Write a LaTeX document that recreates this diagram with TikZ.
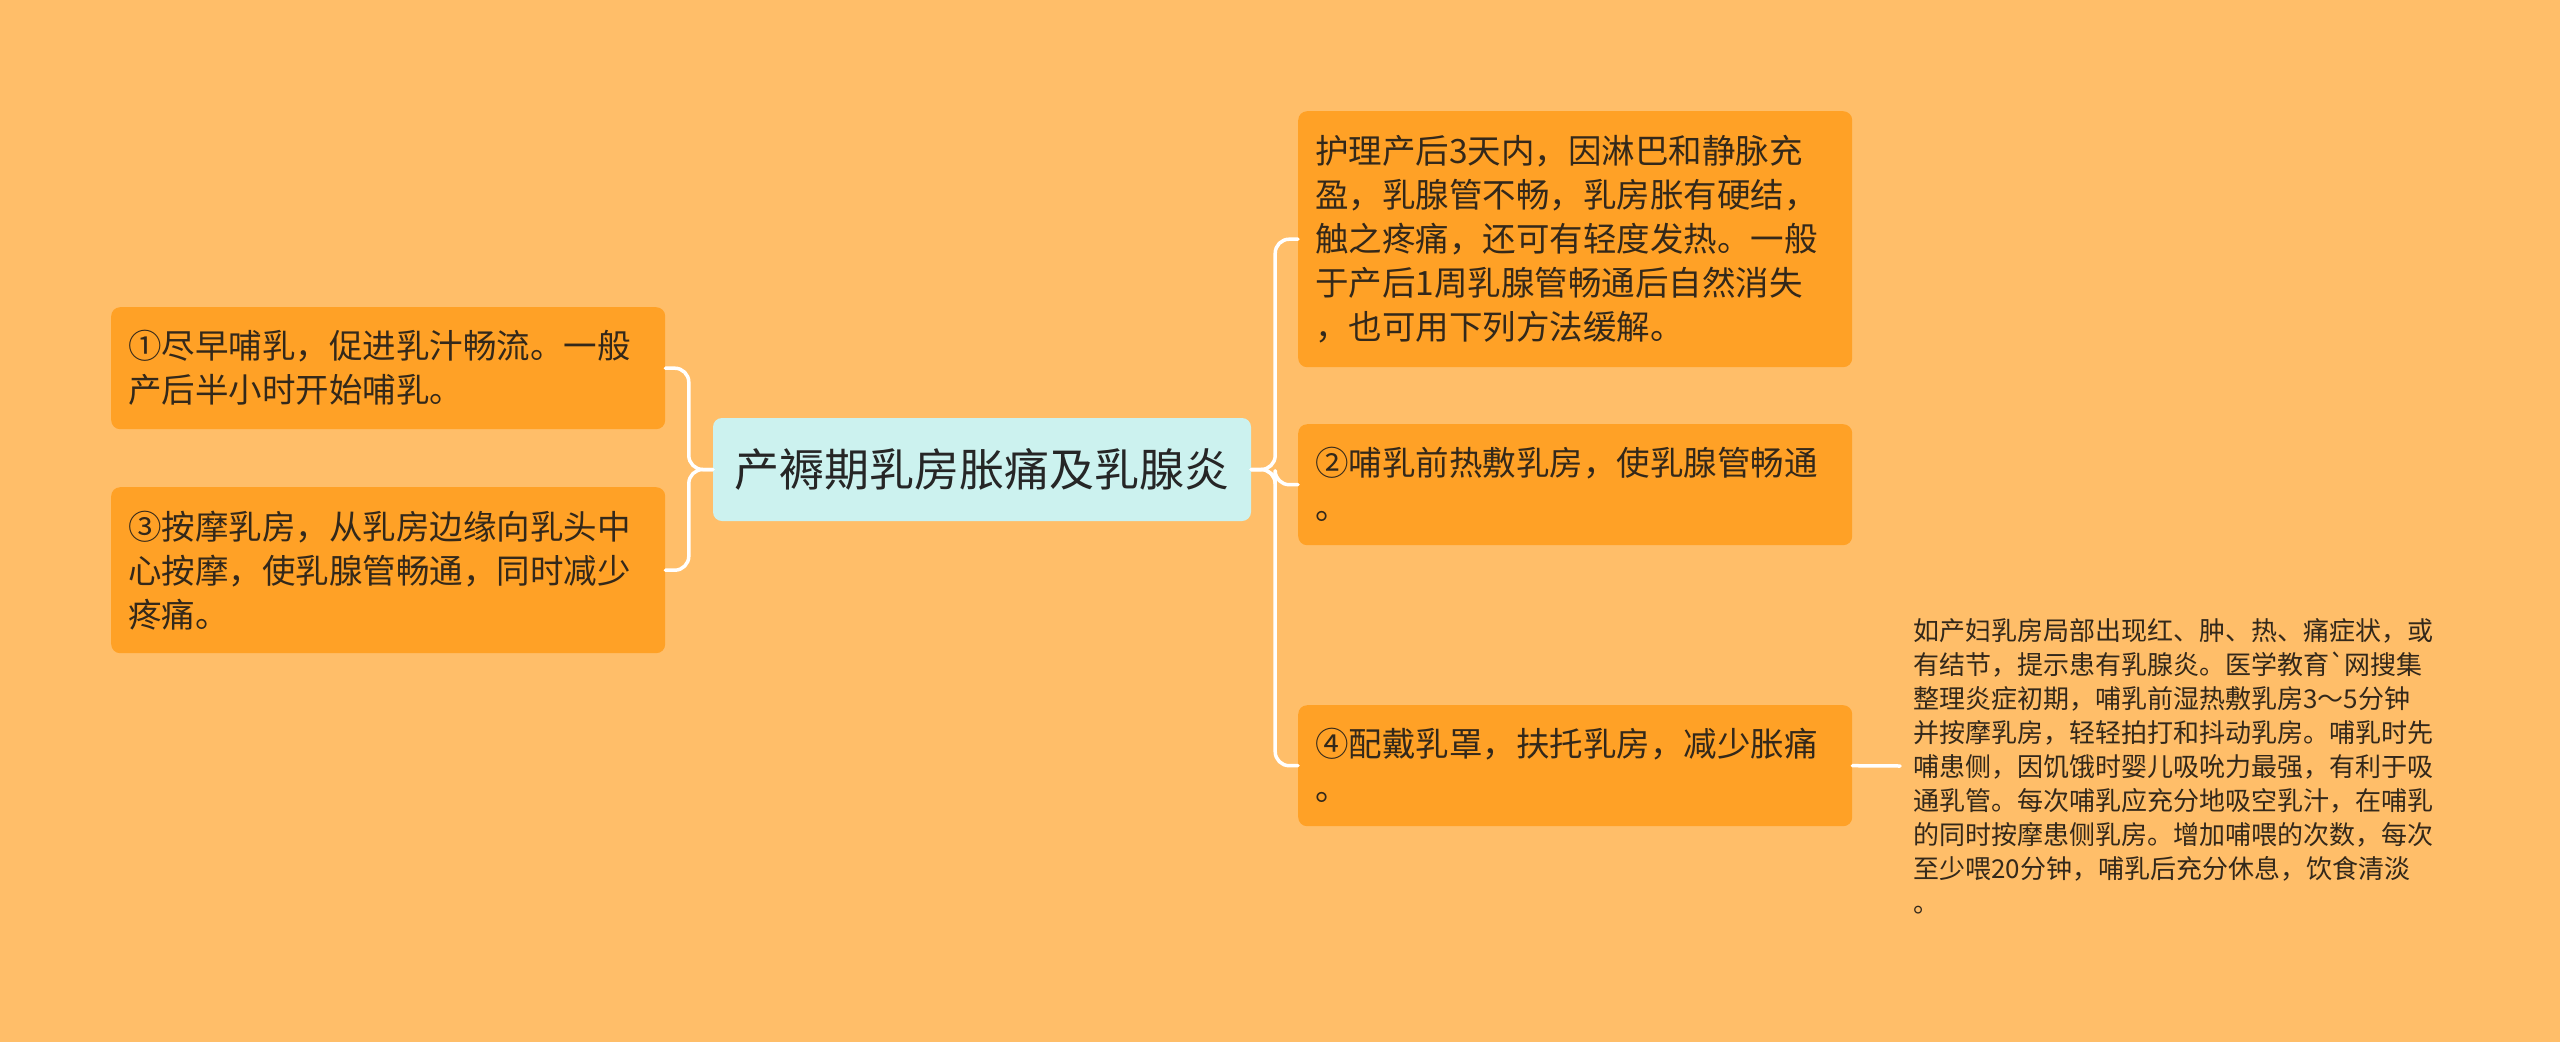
\documentclass[tikz,border=0pt]{standalone}
\usepackage{fontspec}
\setmainfont{Noto Sans CJK SC}
\definecolor{bgorange}{HTML}{FFBE69}
\definecolor{leaforange}{HTML}{FFA126}
\definecolor{rootcyan}{HTML}{CCF2EF}
\definecolor{inkdark}{HTML}{33281A}
\begin{document}
\begin{tikzpicture}[x=1pt,y=-1pt,line join=round,line cap=round,
  root/.style={fill=rootcyan,rounded corners=9pt,minimum width=538pt,minimum height=103pt,
    inner sep=0pt,text=black!85,font=\fontsize{45}{52}\selectfont},
  leaf/.style={fill=leaforange,rounded corners=9pt,anchor=north west,inner xsep=17pt,inner ysep=0pt,
    text width=520pt,align=left,text=inkdark,font=\fontsize{33.5}{44}\selectfont},
  note/.style={anchor=west,inner xsep=13pt,text width=530pt,align=left,text=inkdark,
    font=\fontsize{26}{34}\selectfont},
  link/.style={draw=white,line width=3.5pt,rounded corners=14pt}]
\fill[bgorange] (0,0) rectangle (2560,1042);
\useasboundingbox (0,0) rectangle (2560,1042);

\node[root] (top) at (982,469.5) {产褥期乳房胀痛及乳腺炎};

% left branch
\node[leaf,minimum height=122pt] (m1) at (111,307) {①尽早哺乳，促进乳汁畅流。一般\\产后半小时开始哺乳。};
\node[leaf,minimum height=166pt] (m3) at (111,487) {③按摩乳房，从乳房边缘向乳头中\\心按摩，使乳腺管畅通，同时减少\\疼痛。};

% right branch
\node[leaf,minimum height=256pt] (n0) at (1298,111) {护理产后3天内，因淋巴和静脉充\\盈，乳腺管不畅，乳房胀有硬结，\\触之疼痛，还可有轻度发热。一般\\于产后1周乳腺管畅通后自然消失\\，也可用下列方法缓解。};
\node[leaf,minimum height=121pt] (n2) at (1298,424) {②哺乳前热敷乳房，使乳腺管畅通\\。};
\node[leaf,minimum height=121pt] (n4) at (1298,705) {④配戴乳罩，扶托乳房，减少胀痛\\。};
\node[note] (info) at (1900,766) {如产妇乳房局部出现红、肿、热、痛症状，或\\有结节，提示患有乳腺炎。医学教育\textasciigrave 网搜集\\整理炎症初期，哺乳前湿热敷乳房3～5分钟\\并按摩乳房，轻轻拍打和抖动乳房。哺乳时先\\哺患侧，因饥饿时婴儿吸吮力最强，有利于吸\\通乳管。每次哺乳应充分地吸空乳汁，在哺乳\\的同时按摩患侧乳房。增加哺喂的次数，每次\\至少喂20分钟，哺乳后充分休息，饮食清淡\\。};

\draw[link] (top.west) -- ++(-24,0) |- (m1.east);
\draw[link] (top.west) -- ++(-24,0) |- (m3.east);
\draw[link] (top.east) -- ++(24,0) |- (n0.west);
\draw[link] (top.east) -- ++(24,0) |- (n2.west);
\draw[link] (top.east) -- ++(24,0) |- (n4.west);
\draw[link] (n4.east) -- (info.west);
\end{tikzpicture}
\end{document}
